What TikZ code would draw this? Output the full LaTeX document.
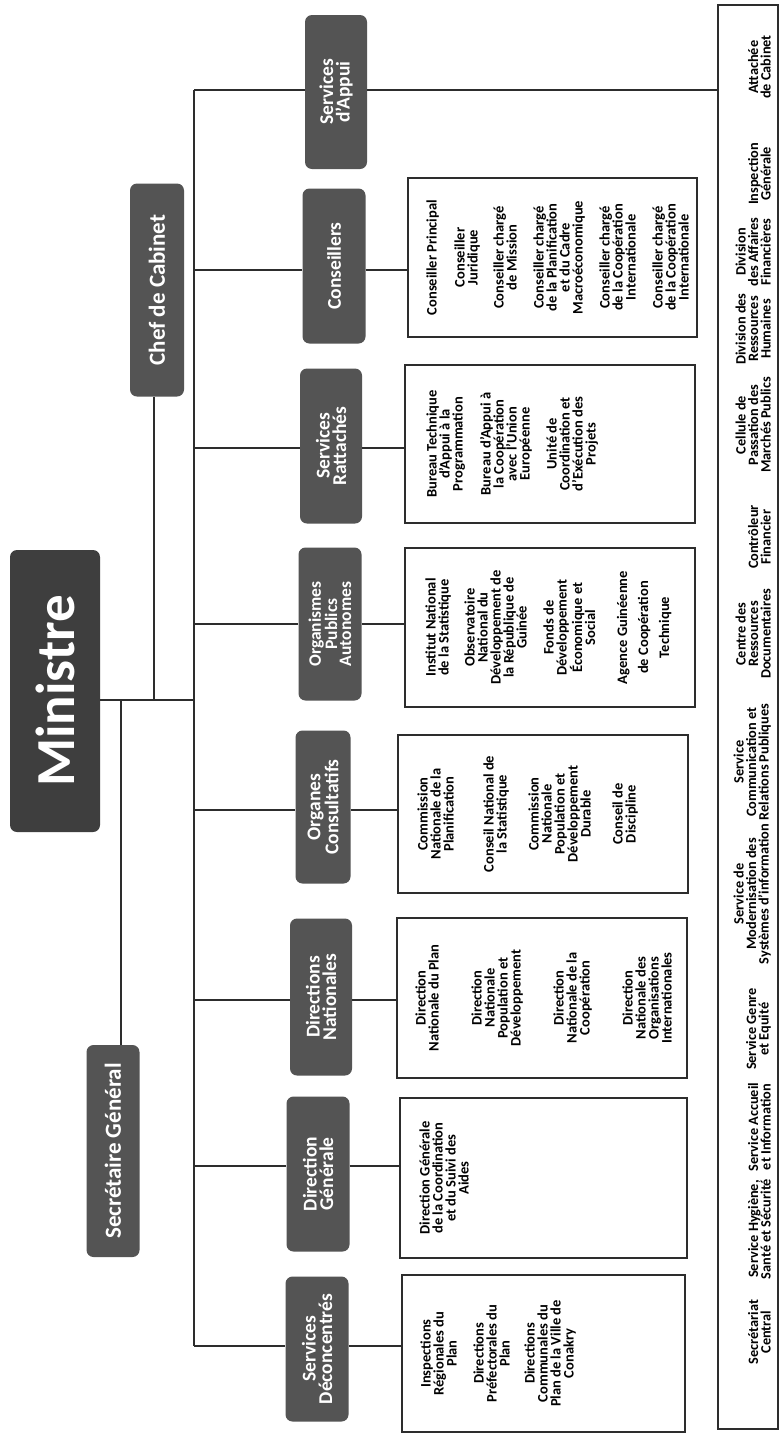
\documentclass[tikz,border=0pt]{standalone}
\usepackage{fontspec}
\setmainfont{Carlito}
\usetikzlibrary{calc}
\definecolor{boxgray}{RGB}{84,84,84}
\definecolor{mingray}{RGB}{62,62,62}
\definecolor{linec}{RGB}{45,45,45}
\begin{document}
\begin{tikzpicture}[x=1pt,y=-1pt,
  dbox/.style={rounded corners=7pt, fill=boxgray, text=white, rotate=90, align=center, inner sep=0pt},
  lab/.style={font=\bfseries\fontsize{19.5}{16.5}\selectfont},
  lbox/.style={draw=linec, line width=1.5pt, fill=white, inner sep=0pt},
  ltext/.style={rotate=90, align=center, inner sep=0pt, anchor=north, font=\bfseries\fontsize{14.5}{13}\selectfont},
  btext/.style={rotate=90, align=center, inner sep=0pt, anchor=south, font=\bfseries\fontsize{14.3}{12.5}\selectfont},
  conn/.style={draw=linec, line width=1.3pt}
]
\useasboundingbox (0,0) rectangle (779,1438);
\fill[white] (0,0) rectangle (779,1438);

% top-level boxes
\node[dbox, minimum width=282, minimum height=90, fill=mingray, font=\bfseries\fontsize{55}{55}\selectfont] (min) at (55,691) {Ministre};
\node[dbox, minimum width=213, minimum height=54, font=\bfseries\fontsize{23}{23}\selectfont] (chef) at (157,290) {Chef de Cabinet};
\node[dbox, minimum width=212, minimum height=53, font=\bfseries\fontsize{23}{23}\selectfont] (sg) at (113,1151) {Secrétaire Général};

% second-level boxes
\node[dbox, lab, minimum width=154, minimum height=62] (appui) at (336,92) {Services\\d’Appui};
\node[dbox, lab, minimum width=155, minimum height=63] (cons) at (334,266) {Conseillers};
\node[dbox, lab, minimum width=155, minimum height=62] (ratt) at (331,446) {Services\\Rattachés};
\node[dbox, minimum width=153, minimum height=63, font=\bfseries\fontsize{17.5}{14}\selectfont] (orgpa) at (330,624) {Organismes\\Publics\\Autonomes};
\node[dbox, lab, minimum width=153, minimum height=55] (orgc) at (323,807) {Organes\\Consultatifs};
\node[dbox, lab, minimum width=157, minimum height=62] (dirn) at (321,997) {Directions\\Nationales};
\node[dbox, lab, minimum width=155, minimum height=63] (dirg) at (318,1174) {Direction\\Générale};
\node[dbox, lab, minimum width=145, minimum height=63] (sdec) at (317,1349) {Services\\Déconcentrés};

% list boxes
\node[lbox, minimum width=289, minimum height=159] (lcons) at (552.5,257.5) {};
\node[lbox, minimum width=290, minimum height=158] (lratt) at (550,444) {};
\node[lbox, minimum width=290, minimum height=159] (lorgpa) at (550,627.5) {};
\node[lbox, minimum width=290, minimum height=158] (lorgc) at (543,814) {};
\node[lbox, minimum width=290, minimum height=160] (ldirn) at (542,998) {};
\node[lbox, minimum width=287, minimum height=160] (ldirg) at (543.5,1178) {};
\node[lbox, minimum width=283, minimum height=157] (lsdec) at (543.5,1353.5) {};
\node[lbox, minimum width=60, minimum height=1424, anchor=north west] (big) at (717,4) {};

% junctions
\coordinate (j1) at (194,90);
\coordinate (j2) at (194,270);
\coordinate (j3) at (194,448);
\coordinate (j4) at (194,624);
\coordinate (j5) at (194,810);
\coordinate (j6) at (194,1000);
\coordinate (j7) at (194,1166);
\coordinate (j8) at (194,1346);
\coordinate (mj) at (194,700);
\coordinate (cj) at (154,700);
\coordinate (sj) at (121,700);

% connectors
\draw[conn] (j1) -- (j8);
\draw[conn] (mj -| min.south) -- (mj);
\draw[conn] (cj) -- (cj |- chef.west);
\draw[conn] (sj) -- (sj |- sg.east);
\draw[conn] (j1) -- (j1 -| appui.north);
\draw[conn] (j1 -| appui.south) -- (j1 -| big.west);
\draw[conn] (j2) -- (j2 -| cons.north);
\draw[conn] (j2 -| cons.south) -- (j2 -| lcons.west);
\draw[conn] (j3) -- (j3 -| ratt.north);
\draw[conn] (j3 -| ratt.south) -- (j3 -| lratt.west);
\draw[conn] (j4) -- (j4 -| orgpa.north);
\draw[conn] (j4 -| orgpa.south) -- (j4 -| lorgpa.west);
\draw[conn] (j5) -- (j5 -| orgc.north);
\draw[conn] (j5 -| orgc.south) -- (j5 -| lorgc.west);
\draw[conn] (j6) -- (j6 -| dirn.north);
\draw[conn] (j6 -| dirn.south) -- (j6 -| ldirn.west);
\draw[conn] (j7) -- (j7 -| dirg.north);
\draw[conn] (j7 -| dirg.south) -- (j7 -| ldirg.west);
\draw[conn] (j8) -- (j8 -| sdec.north);
\draw[conn] (j8 -| sdec.south) -- (j8 -| lsdec.west);

% list texts
\node[ltext] (tcons) at ($(lcons.west)+(19,0)$) {Conseiller Principal\\[15pt]
Conseiller\\Juridique\\[13pt]
Conseiller chargé\\de Mission\\[14pt]
Conseiller chargé\\de la Planification\\et du Cadre\\Macroéconomique\\[14pt]
Conseiller chargé\\de la Coopération\\Internationale\\[14pt]
Conseiller chargé\\de la Coopération\\Internationale};

\node[ltext] (tratt) at ($(lratt.west)+(22,0)$) {Bureau Technique\\d’Appui à la\\Programmation\\[14pt]
Bureau d’Appui à\\la Coopération\\avec l’Union\\Européenne\\[14pt]
Unité de\\Coordination et\\d’Exécution des\\Projets};

\node[ltext] (torgpa) at ($(lorgpa.west)+(21,0)$) {Institut National\\de la Statistique\\[13pt]
Observatoire\\National du\\Développement de\\la République de\\Guinée\\[14pt]
Fonds de\\Développement\\Économique et\\Social\\[19pt]
Agence Guinéenne\\[8pt]
de Coopération\\[8pt]
Technique};

\node[ltext] (torgc) at ($(lorgc.west)+(20,0)$) {Commission\\Nationale de la\\Planification\\[27pt]
Conseil National de\\la Statistique\\[19pt]
Commission\\Nationale\\Population et\\Développement\\Durable\\[19pt]
Conseil de\\Discipline};

\node[ltext] (tdirn) at ($(ldirn.west)+(19,0)$) {Direction\\Nationale du Plan\\[30pt]
Direction\\Nationale\\Population et\\Développement\\[30pt]
Direction\\Nationale de la\\Coopération\\[30pt]
Direction\\Nationale des\\Organisations\\Internationales};

\node[ltext] (tdirg) at ($(ldirg.west)+(20,0)$) {Direction Générale\\de la Coordination\\et du Suivi des\\Aides};

\node[ltext] (tsdec) at ($(lsdec.west)+(19,0)$) {Inspections\\Régionales du\\Plan\\[14pt]
Directions\\Préfectorales du\\Plan\\[12pt]
Directions\\Communales du\\Plan de la Ville de\\Conakry};

% support services
\node[btext] (s1) at (771,67) {Attachée\\de Cabinet};
\node[btext] (s2) at (771,174) {Inspection\\Générale};
\node[btext] (s3) at (771,252) {Division\\des Affaires\\Financières};
\node[btext] (s4) at (771,329) {Division des\\Ressources\\Humaines};
\node[btext] (s5) at (771,425) {Cellule de\\Passation des\\Marchés Publics};
\node[btext] (s6) at (771,537) {Contrôleur\\Financier};
\node[btext] (s7) at (771,634) {Centre des\\Ressources\\Documentaires};
\node[btext] (s8) at (771,762) {Service\\Communication et\\Relations Publiques};
\node[btext] (s9) at (771,894) {Service de\\Modernisation des\\Systèmes d’information};
\node[btext] (s10) at (771,1029) {Service Genre\\et Equité};
\node[btext] (s11) at (771,1127) {Service Accueil\\et Information};
\node[btext] (s12) at (771,1229) {Service Hygiène,\\Santé et Sécurité};
\node[btext] (s13) at (771,1332) {Secrétariat\\Central};
\end{tikzpicture}
\end{document}
